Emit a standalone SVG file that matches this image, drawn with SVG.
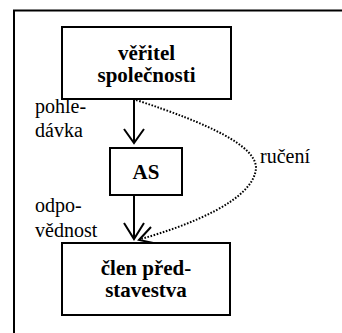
<svg xmlns="http://www.w3.org/2000/svg" width="342" height="333" viewBox="0 0 342 333">
<style>
.box{fill:#fff;stroke:#000;stroke-width:2}
.nt{font-size:21px;font-weight:bold;text-anchor:middle;fill:#000}
.lb{font-size:20px;fill:#000}
.ar{fill:none;stroke:#000;stroke-width:2}
.dot{fill:none;stroke:#000;stroke-width:2;stroke-dasharray:1.6 1.6}
</style>
<rect width="342" height="333" fill="#fff"/>
<path d="M14,333 V10.5 H342" fill="none" stroke="#000" stroke-width="2"/>
<g id="connectors" font-family="Times New Roman, Liberation Serif, serif">
<path class="ar" d="M134,99 V142"/>
<path class="ar" d="M124,129 L134,143 L144,129"/>
<path class="ar" d="M134,195 V238"/>
<path class="ar" d="M124,223 L134,239 L144,223"/>
<path class="dot" d="M136,100 C210,124 256,146 256,168 C254,200 190,225 141,239"/>
<path class="ar" d="M151,227 L139,240 L158,244"/>
<text class="lb" x="35" y="113">pohle-</text>
<text class="lb" x="35" y="137">dávka</text>
<text class="lb" x="260" y="163">ručení</text>
<text class="lb" x="35" y="212">odpo-</text>
<text class="lb" x="35" y="237">vědnost</text>
</g>
<g id="node-veritel" font-family="Times New Roman, Liberation Serif, serif">
<rect class="box" x="62" y="27" width="169" height="72"/>
<text class="nt" x="146.5" y="60">věřitel</text>
<text class="nt" x="146.5" y="82">společnosti</text>
</g>
<g id="node-as" font-family="Times New Roman, Liberation Serif, serif">
<rect class="box" x="110" y="148" width="72" height="47"/>
<text class="nt" x="146" y="179">AS</text>
</g>
<g id="node-clen" font-family="Times New Roman, Liberation Serif, serif">
<rect class="box" x="62" y="243" width="168" height="72"/>
<text class="nt" x="146" y="275">člen před-</text>
<text class="nt" x="146" y="297">stavestva</text>
</g>
</svg>
